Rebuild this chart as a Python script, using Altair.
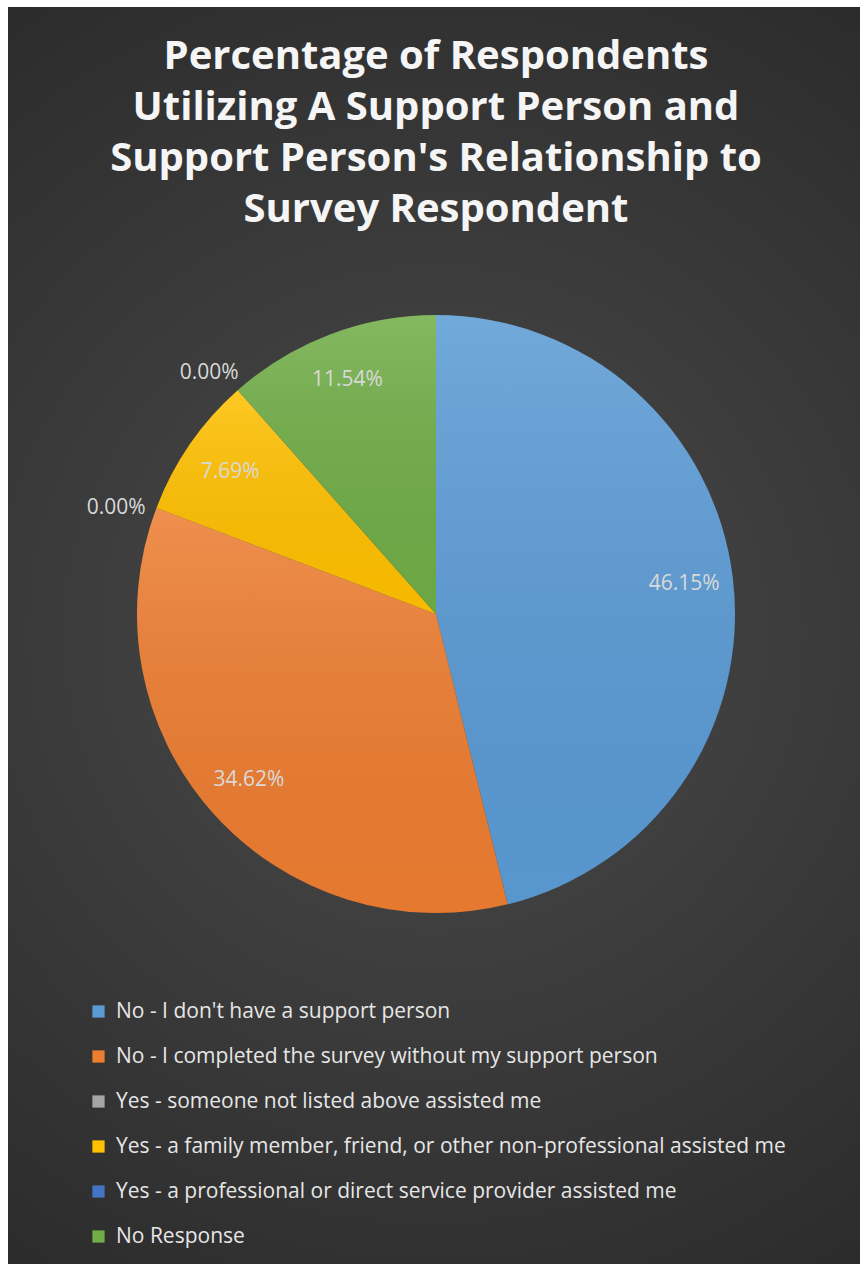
import altair as alt
import pandas as pd

categories = [
    "No - I don't have a support person",
    "No - I completed the survey without my support person",
    "Yes - someone not listed above assisted me",
    "Yes - a family member, friend, or other non-professional assisted me",
    "Yes - a professional or direct service provider assisted me",
    "No Response",
]
values = [46.15, 34.62, 0.00, 7.69, 0.00, 11.54]
labels = ["46.15%", "34.62%", "0.00%", "7.69%", "0.00%", "11.54%"]
colors = ["#5B9BD5", "#ED7D31", "#A5A5A5", "#FFC000", "#4472C4", "#70AD47"]
title_lines = [
    "Percentage of Respondents",
    "Utilizing A Support Person and",
    "Support Person's Relationship to",
    "Survey Respondent",
]

df = pd.DataFrame({
    "category": categories,
    "value": values,
    "label": labels,
    "order": list(range(len(categories))),
})

W, H = 864, 1264
CX, CY, R = 436, 614, 299
FONT = "Open Sans"

bg_grad = alt.Gradient(
    gradient="radial",
    x1=0.5, y1=0.5, r1=0, x2=0.5, y2=0.5, r2=0.75,
    stops=[
        alt.GradientStop(offset=0, color="#4b4b4b"),
        alt.GradientStop(offset=1, color="#242424"),
    ],
)

background = alt.Chart(pd.DataFrame({"a": [0]})).mark_rect(fill=bg_grad).encode(
    x=alt.value(8), x2=alt.value(860), y=alt.value(7), y2=alt.value(H)
)

base = alt.Chart(df).encode(
    theta=alt.Theta("value:Q", stack=True, scale=alt.Scale(domain=[0, 100])),
    order=alt.Order("order:Q"),
)

pie = base.mark_arc(radius=R, stroke=None).encode(
    x=alt.value(CX),
    y=alt.value(CY),
    color=alt.Color(
        "category:N",
        sort=categories,
        scale=alt.Scale(domain=categories, range=colors),
        legend=alt.Legend(
            title=None,
            orient="none",
            legendX=88,
            legendY=1001,
            direction="vertical",
            symbolType="square",
            symbolSize=150,
            symbolStrokeWidth=0,
            labelFont=FONT,
            labelFontSize=21,
            labelColor="#e6e6e6",
            labelLimit=800,
            rowPadding=23,
            labelOffset=7,
        ),
    ),
)

shade_grad = alt.Gradient(
    gradient="linear",
    x1=0, y1=0, x2=0, y2=1,
    stops=[
        alt.GradientStop(offset=0, color="rgba(255,255,255,0.14)"),
        alt.GradientStop(offset=1, color="rgba(0,0,0,0.03)"),
    ],
)
shade = base.mark_arc(radius=R, fill=shade_grad, stroke=None).encode(
    x=alt.value(CX), y=alt.value(CY)
)

inner_labels = base.mark_text(
    radius=250, font=FONT, fontSize=21, color="#d9d9d9", align="center", baseline="middle"
).encode(
    x=alt.value(CX),
    y=alt.value(CY),
    text=alt.condition("datum.value > 0", "label:N", alt.value("")),
)

outer_labels = base.mark_text(
    radius=342, dy=15, font=FONT, fontSize=21, color="#d9d9d9", align="center", baseline="middle"
).encode(
    x=alt.value(CX),
    y=alt.value(CY),
    text=alt.condition("datum.value > 0", alt.value(""), "label:N"),
)

title = alt.Chart(pd.DataFrame({"a": [0]})).mark_text(
    text=title_lines,
    font=FONT,
    fontSize=40,
    fontWeight="bold",
    color="#f5f5f5",
    lineHeight=51,
    align="center",
    baseline="middle",
).encode(x=alt.value(CX), y=alt.value(57))

chart = (
    alt.layer(background, pie, shade, inner_labels, outer_labels, title)
    .properties(width=W, height=H, autosize=alt.AutoSizeParams(type="none"), padding=0,
                background="white")
    .configure_view(stroke=None)
)

chart.save("out.html", embed_options={"renderer": "svg", "actions": False})
